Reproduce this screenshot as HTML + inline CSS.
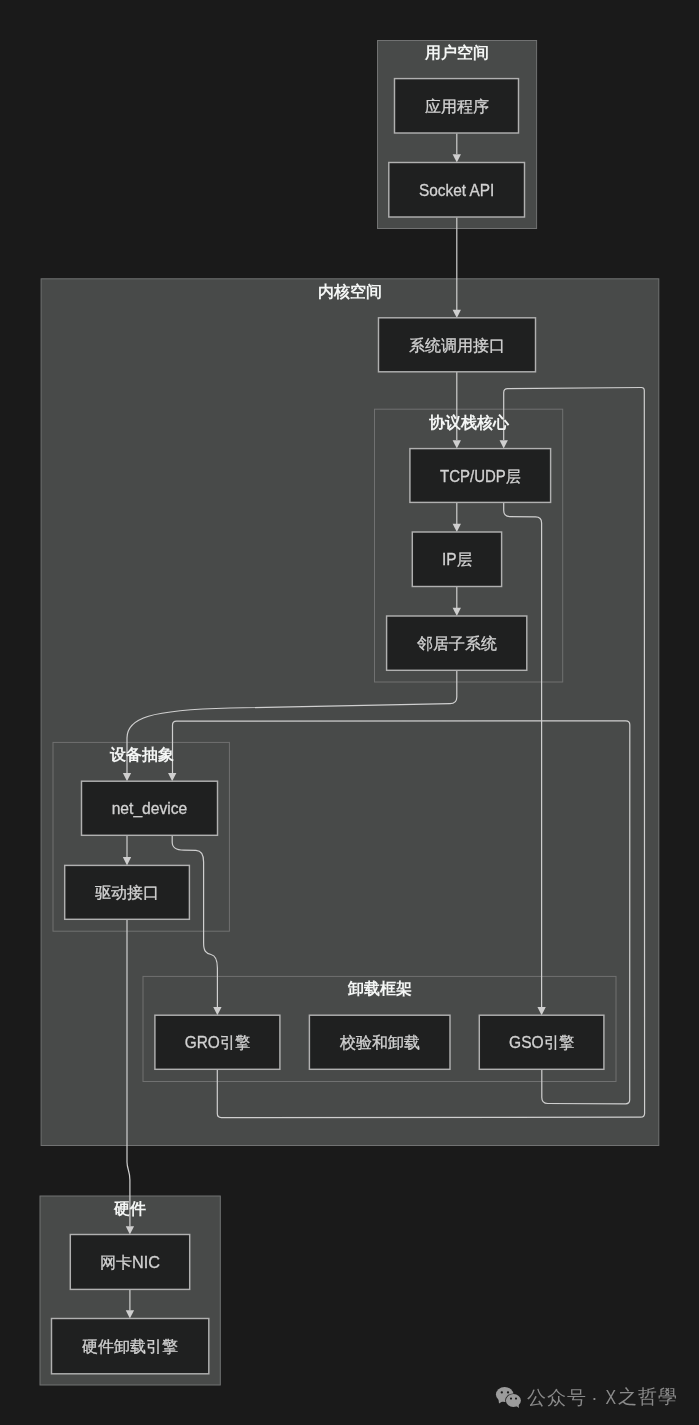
<!DOCTYPE html><html><head><meta charset="utf-8"><style>html,body{margin:0;padding:0;background:#1a1a1a;width:699px;height:1425px;overflow:hidden}svg{display:block;will-change:transform;font-family:"Liberation Sans",sans-serif}</style></head><body>
<svg width="699" height="1425" viewBox="0 0 699 1425">
<rect width="699" height="1425" fill="#1a1a1a"/>
<rect x="377.5" y="40.5" width="159.1" height="188.0" fill="#484a49" stroke="#717272" stroke-width="1"/>
<rect x="41.1" y="278.8" width="617.7" height="866.7" fill="#484a49" stroke="#717272" stroke-width="1"/>
<rect x="374.5" y="409.2" width="188.2" height="272.8" fill="#484a49" stroke="#707171" stroke-width="1"/>
<rect x="53" y="742.4" width="176.4" height="188.8" fill="#484a49" stroke="#707171" stroke-width="1"/>
<rect x="143" y="976.4" width="473" height="105.1" fill="#484a49" stroke="#707171" stroke-width="1"/>
<rect x="40" y="1196" width="180.3" height="189" fill="#484a49" stroke="#717272" stroke-width="1"/>
<path d="M456.8,133.5 L456.8,154" fill="none" stroke="#cfcfcf" stroke-width="1.2"/>
<path d="M456.8,217.5 L456.8,310" fill="none" stroke="#cfcfcf" stroke-width="1.2"/>
<path d="M456.8,372 L456.8,440" fill="none" stroke="#cfcfcf" stroke-width="1.2"/>
<path d="M456.8,502.5 L456.8,524" fill="none" stroke="#cfcfcf" stroke-width="1.2"/>
<path d="M456.8,586.5 L456.8,608" fill="none" stroke="#cfcfcf" stroke-width="1.2"/>
<path d="M456.8,670.5 L456.8,697 Q456.8,703.6 450,703.7 L230,708 C150,710 127,718 127,738 L127,773" fill="none" stroke="#cfcfcf" stroke-width="1.2"/>
<path d="M127,835.5 L127,857" fill="none" stroke="#cfcfcf" stroke-width="1.2"/>
<path d="M127,919.5 L127,1162 C127,1169 129.9,1171 129.9,1180 L129.9,1226.5" fill="none" stroke="#cfcfcf" stroke-width="1.2"/>
<path d="M129.9,1289.5 L129.9,1310.5" fill="none" stroke="#cfcfcf" stroke-width="1.2"/>
<path d="M503.70,502.50 L503.70,510.60 Q503.70,516.60 509.70,516.66 L535.60,516.94 Q541.60,517.00 541.60,523.00 L541.60,1007.00" fill="none" stroke="#cfcfcf" stroke-width="1.2"/>
<path d="M172.2,835.5 L172.2,842 C172.2,848 176,850 184,850.2 L196,850.4 C201,850.6 203.6,854 203.6,862 L203.6,943 C203.6,951 206,953.5 211,954.5 C215.5,955.5 217.4,959 217.4,968 L217.4,1007" fill="none" stroke="#cfcfcf" stroke-width="1.2"/>
<path d="M541.80,1069.50 L541.80,1097.50 Q541.80,1103.50 547.80,1103.52 L625.70,1103.79 Q629.70,1103.80 629.70,1099.80 L629.80,724.80 Q629.80,720.80 625.80,720.80 L176.50,721.20 Q172.50,721.20 172.50,725.20 L172.50,773.00" fill="none" stroke="#cfcfcf" stroke-width="1.2"/>
<path d="M217.30,1069.50 L217.30,1113.60 Q217.30,1117.60 221.30,1117.60 L640.60,1117.20 Q644.60,1117.20 644.60,1113.20 L644.30,390.50 Q644.30,387.50 641.30,387.52 L507.70,388.57 Q503.70,388.60 503.70,392.60 L503.70,440.00" fill="none" stroke="#cfcfcf" stroke-width="1.2"/>
<path d="M452.65000000000003,154.2 L460.95,154.2 L456.8,162.5 Z" fill="#cfcfcf"/>
<path d="M452.65000000000003,309.7 L460.95,309.7 L456.8,318 Z" fill="#cfcfcf"/>
<path d="M452.65000000000003,440.2 L460.95,440.2 L456.8,448.5 Z" fill="#cfcfcf"/>
<path d="M452.65000000000003,523.7 L460.95,523.7 L456.8,532 Z" fill="#cfcfcf"/>
<path d="M452.65000000000003,607.7 L460.95,607.7 L456.8,616 Z" fill="#cfcfcf"/>
<path d="M122.85,772.9000000000001 L131.15,772.9000000000001 L127,781.2 Z" fill="#cfcfcf"/>
<path d="M122.85,857.1 L131.15,857.1 L127,865.4 Z" fill="#cfcfcf"/>
<path d="M125.75,1226.2 L134.05,1226.2 L129.9,1234.5 Z" fill="#cfcfcf"/>
<path d="M125.75,1310.2 L134.05,1310.2 L129.9,1318.5 Z" fill="#cfcfcf"/>
<path d="M537.45,1006.9000000000001 L545.75,1006.9000000000001 L541.6,1015.2 Z" fill="#cfcfcf"/>
<path d="M213.25,1006.9000000000001 L221.55,1006.9000000000001 L217.4,1015.2 Z" fill="#cfcfcf"/>
<path d="M168.04999999999998,772.9000000000001 L176.35,772.9000000000001 L172.2,781.2 Z" fill="#cfcfcf"/>
<path d="M499.55,440.2 L507.84999999999997,440.2 L503.7,448.5 Z" fill="#cfcfcf"/>
<text x="456.7" y="52.2" text-anchor="middle" dominant-baseline="central" font-size="16" font-weight="bold" fill="#f4f6f5">用户空间</text>
<text x="350" y="291.5" text-anchor="middle" dominant-baseline="central" font-size="16" font-weight="bold" fill="#f4f6f5">内核空间</text>
<text x="468.7" y="422.9" text-anchor="middle" dominant-baseline="central" font-size="16" font-weight="bold" fill="#f4f6f5">协议栈核心</text>
<text x="141.5" y="754" text-anchor="middle" dominant-baseline="central" font-size="16" font-weight="bold" fill="#f4f6f5">设备抽象</text>
<text x="379.5" y="988" text-anchor="middle" dominant-baseline="central" font-size="16" font-weight="bold" fill="#f4f6f5">卸载框架</text>
<text x="129.9" y="1208.5" text-anchor="middle" dominant-baseline="central" font-size="16" font-weight="bold" fill="#f4f6f5">硬件</text>
<rect x="394.5" y="78.6" width="124.0" height="54.4" fill="#1f2020" stroke="#b0b0b0" stroke-width="1.45"/>
<text x="456.5" y="105.8" text-anchor="middle" dominant-baseline="central" font-size="16.3" fill="#d2d2d2" stroke="#d2d2d2" stroke-width="0.3">应用程序</text>
<rect x="388.8" y="162.5" width="135.7" height="54.5" fill="#1f2020" stroke="#b0b0b0" stroke-width="1.45"/>
<text x="456.65" y="189.75" text-anchor="middle" dominant-baseline="central" font-size="16.3" fill="#d2d2d2" stroke="#d2d2d2" stroke-width="0.3" textLength="75.4" lengthAdjust="spacingAndGlyphs">Socket API</text>
<rect x="378.5" y="317.8" width="157.0" height="54.0" fill="#1f2020" stroke="#b0b0b0" stroke-width="1.45"/>
<text x="457.0" y="344.8" text-anchor="middle" dominant-baseline="central" font-size="16.3" fill="#d2d2d2" stroke="#d2d2d2" stroke-width="0.3">系统调用接口</text>
<rect x="409.9" y="448.6" width="140.7" height="53.8" fill="#1f2020" stroke="#b0b0b0" stroke-width="1.45"/>
<text x="480.25" y="475.5" text-anchor="middle" dominant-baseline="central" font-size="16.3" fill="#d2d2d2" stroke="#d2d2d2" stroke-width="0.3" textLength="80.5" lengthAdjust="spacingAndGlyphs">TCP/UDP层</text>
<rect x="412.3" y="532" width="89.3" height="54.5" fill="#1f2020" stroke="#b0b0b0" stroke-width="1.45"/>
<text x="456.95" y="559.25" text-anchor="middle" dominant-baseline="central" font-size="16.3" fill="#d2d2d2" stroke="#d2d2d2" stroke-width="0.3" textLength="29.9" lengthAdjust="spacingAndGlyphs">IP层</text>
<rect x="386.6" y="616" width="140.2" height="54.3" fill="#1f2020" stroke="#b0b0b0" stroke-width="1.45"/>
<text x="456.7" y="643.15" text-anchor="middle" dominant-baseline="central" font-size="16.3" fill="#d2d2d2" stroke="#d2d2d2" stroke-width="0.3">邻居子系统</text>
<rect x="81.5" y="781.2" width="136.0" height="54.1" fill="#1f2020" stroke="#b0b0b0" stroke-width="1.45"/>
<text x="149.5" y="808.25" text-anchor="middle" dominant-baseline="central" font-size="16.3" fill="#d2d2d2" stroke="#d2d2d2" stroke-width="0.3" textLength="75.7" lengthAdjust="spacingAndGlyphs">net_device</text>
<rect x="64.7" y="865.4" width="124.7" height="53.9" fill="#1f2020" stroke="#b0b0b0" stroke-width="1.45"/>
<text x="127.05" y="892.35" text-anchor="middle" dominant-baseline="central" font-size="16.3" fill="#d2d2d2" stroke="#d2d2d2" stroke-width="0.3">驱动接口</text>
<rect x="154.9" y="1015.2" width="125.0" height="54.1" fill="#1f2020" stroke="#b0b0b0" stroke-width="1.45"/>
<text x="217.4" y="1042.25" text-anchor="middle" dominant-baseline="central" font-size="16.3" fill="#d2d2d2" stroke="#d2d2d2" stroke-width="0.3" textLength="65.4" lengthAdjust="spacingAndGlyphs">GRO引擎</text>
<rect x="309.4" y="1015.2" width="140.6" height="54.1" fill="#1f2020" stroke="#b0b0b0" stroke-width="1.45"/>
<text x="379.7" y="1042.25" text-anchor="middle" dominant-baseline="central" font-size="16.3" fill="#d2d2d2" stroke="#d2d2d2" stroke-width="0.3">校验和卸载</text>
<rect x="479.3" y="1015.2" width="124.6" height="54.1" fill="#1f2020" stroke="#b0b0b0" stroke-width="1.45"/>
<text x="541.6" y="1042.25" text-anchor="middle" dominant-baseline="central" font-size="16.3" fill="#d2d2d2" stroke="#d2d2d2" stroke-width="0.3" textLength="65.1" lengthAdjust="spacingAndGlyphs">GSO引擎</text>
<rect x="70.3" y="1234.5" width="119.4" height="54.9" fill="#1f2020" stroke="#b0b0b0" stroke-width="1.45"/>
<text x="130.0" y="1261.95" text-anchor="middle" dominant-baseline="central" font-size="16.3" fill="#d2d2d2" stroke="#d2d2d2" stroke-width="0.3">网卡NIC</text>
<rect x="51.5" y="1318.5" width="157.3" height="55.3" fill="#1f2020" stroke="#b0b0b0" stroke-width="1.45"/>
<text x="130.15" y="1346.15" text-anchor="middle" dominant-baseline="central" font-size="16.3" fill="#d2d2d2" stroke="#d2d2d2" stroke-width="0.3">硬件卸载引擎</text>
<g>
<ellipse cx="504.7" cy="1394.5" rx="8.8" ry="7.6" fill="#9c9c9c"/>
<path d="M498.5,1399.5 L499,1403.5 L503,1401 Z" fill="#9c9c9c"/>
<circle cx="501.8" cy="1392.4" r="1.15" fill="#1a1a1a"/><circle cx="508" cy="1392.4" r="1.15" fill="#1a1a1a"/>
<ellipse cx="513.4" cy="1400.5" rx="8.2" ry="7.0" fill="#1a1a1a"/>
<ellipse cx="513.4" cy="1400.5" rx="7.5" ry="6.4" fill="#9c9c9c"/>
<path d="M515.5,1405.5 L519,1408 L518.5,1403.5 Z" fill="#9c9c9c"/>
<circle cx="511" cy="1398.6" r="1.05" fill="#1a1a1a"/><circle cx="516" cy="1398.6" r="1.05" fill="#1a1a1a"/>
</g>
<text x="527" y="1397.3" dominant-baseline="central" font-size="19" letter-spacing="1" fill="#8a8a8a">公众号</text>
<text x="594.4" y="1397.3" text-anchor="middle" dominant-baseline="central" font-size="19" fill="#8a8a8a">·</text>
<text x="605.6" y="1396.8" dominant-baseline="central" font-size="19.5" textLength="10.6" lengthAdjust="spacingAndGlyphs" fill="#8a8a8a">X</text>
<text x="618.3" y="1396.8" dominant-baseline="central" font-size="19" letter-spacing="1" fill="#8a8a8a">之哲學</text>
</svg></body></html>
